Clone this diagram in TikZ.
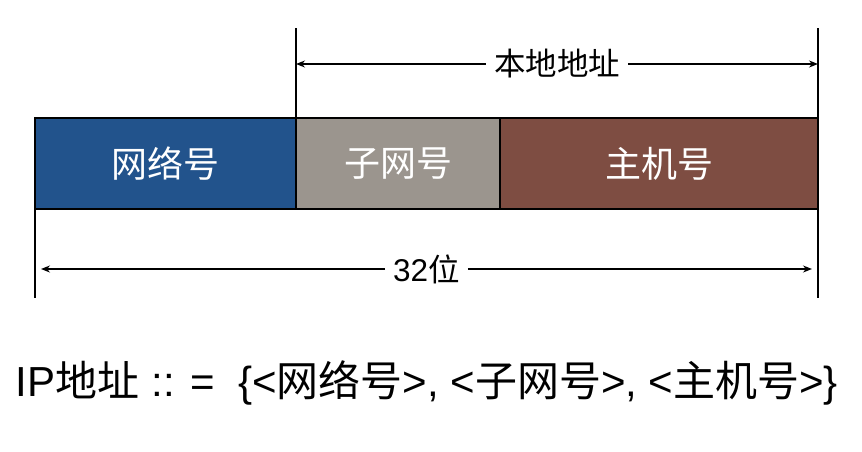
\documentclass[tikz,border=0pt]{standalone}
\usepackage{fontspec}
\setmainfont{Liberation Sans}
\newfontfamily\cjk{Noto Sans CJK SC}
\usetikzlibrary{positioning, arrows.meta, calc}
\definecolor{netblue}{HTML}{22538C}
\definecolor{subgray}{HTML}{9B958E}
\definecolor{hostbrown}{HTML}{7E4D42}

\begin{document}
\begin{tikzpicture}[
  x=1pt, y=-1pt,
  seg/.style={fill=#1, draw=black, line width=1.6pt, outer sep=0pt,
    minimum height=91pt, text=white, font=\cjk\fontsize{36}{40}\selectfont},
  dimline/.style={line width=1.4pt, -{Stealth[length=9pt, width=7pt]}},
  tick/.style={line width=1.4pt},
  dimlabel/.style={font=\cjk\fontsize{31.5}{36}\selectfont, inner sep=8pt},
]
\useasboundingbox (0,0) rectangle (862,452);

% Segments
\node[seg=netblue, minimum width=261pt, anchor=north west] (net) at (35,118) {网络号};
\node[seg=subgray, minimum width=204pt, right=0pt of net] (sub) {子网号};
\node[seg=hostbrown, minimum width=318pt, right=0pt of sub] (host) {主机号};

% Local address
\coordinate (la) at (296,64);
\coordinate (lb) at (818,64);
\draw[tick] (sub.north west) -- (296,28);
\draw[tick] (host.north east) -- (818,28);
\node[dimlabel] (local) at ($(la)!0.5!(lb)$) {本地地址};
\draw[dimline] (local.west) -- (la);
\draw[dimline] (local.east) -- (lb);

% 32 bits
\coordinate (ba) at (35,269);
\coordinate (bb) at (818,269);
\draw[tick] (net.south west) -- (35,298);
\draw[tick] (host.south east) -- (818,298);
\node[dimlabel] (bits) at ($(ba)!0.5!(bb)$) {\fontspec{Liberation Sans}32{\cjk 位}};
\draw[dimline, shorten >=6pt] (bits.west) -- (ba);
\draw[dimline, shorten >=6pt] (bits.east) -- (bb);

% Definition
\node[font=\fontsize{42}{46}\selectfont] (def) at (427,383)
  {IP{\cjk 地址} :: =\ \ \{<{\cjk 网络号}>, <{\cjk 子网号}>, <{\cjk 主机号}>\}};
\end{tikzpicture}
\end{document}
